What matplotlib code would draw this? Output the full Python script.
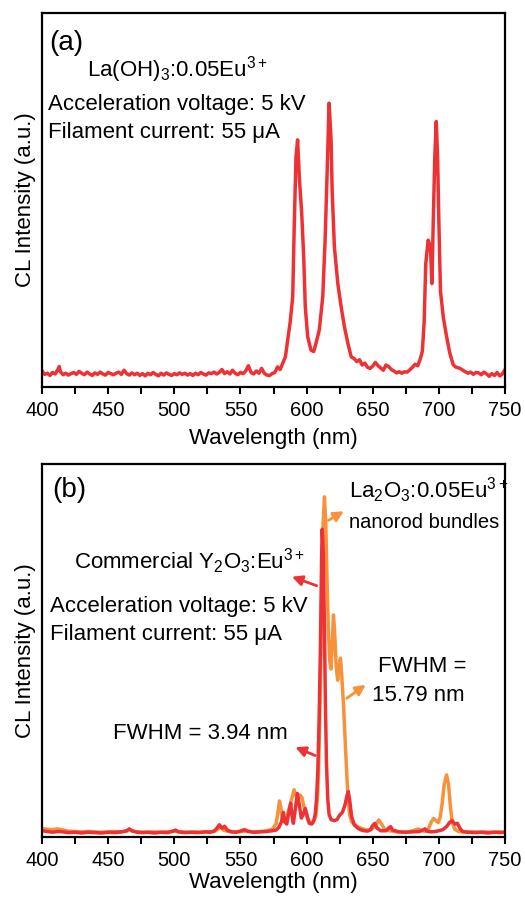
import matplotlib
matplotlib.use("Agg")
import matplotlib.pyplot as plt
from matplotlib.ticker import MultipleLocator

plt.rcParams['font.family'] = ['Liberation Sans', 'DejaVu Sans']
plt.rcParams['mathtext.fontset'] = 'custom'
plt.rcParams['mathtext.rm'] = 'Liberation Sans'
plt.rcParams['mathtext.it'] = 'Liberation Sans'

# ---- (a) La(OH)3:0.05Eu3+ CL spectrum ----
wl_a = [400, 402, 404, 406, 408, 410, 412, 413, 414, 416, 418, 420, 422, 424, 426, 428,
        430, 432, 434, 436, 438, 440, 442, 444, 446, 448, 450, 452, 454, 456, 458, 460,
        462, 464, 466, 468, 470, 472, 474, 476, 478, 480, 482, 484, 486, 488, 490, 492,
        494, 496, 498, 500, 502, 504, 506, 508, 510, 512, 514, 516, 518, 520, 522, 524,
        526, 528, 530, 532, 534, 536, 538, 540, 542, 544, 546, 548, 550, 552, 554, 556,
        558, 560, 562, 564, 566, 568, 570, 572, 574, 576, 578, 580, 582, 584, 585.7,
        587.5, 589.5, 590.7, 592, 593.2, 594.5, 596.3, 597.8, 599, 600.8, 603.3, 605.4,
        607.1, 609.6, 612.2, 614, 615.5, 617, 618.5, 619.3, 621, 623.6, 626.1, 628.6,
        631.2, 633.7, 636, 638, 640, 642, 644, 646, 648, 650, 652, 654, 656, 658, 660,
        662, 664, 666, 668, 670, 672, 674, 676, 678, 680, 682, 684, 686, 687.5, 688.8,
        690.1, 691.9, 693.6, 694.7, 695.7, 696.9, 698, 699, 700, 701.2, 703.3, 705.8,
        708.3, 710.9, 713, 716, 719, 722, 724, 726, 728, 730, 732, 734, 736, 738, 740,
        742, 744, 746, 748, 750]
cl_a = [4.2, 3.3, 3.6, 3.0, 3.8, 3.4, 4.6, 5.4, 4.0, 3.2, 3.6, 3.1, 3.5, 3.8, 3.3, 4.1,
        3.6, 3.2, 3.9, 3.4, 3.0, 3.7, 3.3, 3.9, 3.4, 3.1, 3.8, 3.5, 3.2, 3.6, 3.9, 3.3,
        4.4, 3.5, 3.1, 3.7, 3.2, 3.6, 3.0, 3.5, 2.9, 3.6, 3.2, 3.8, 3.3, 2.9, 3.6, 3.1,
        3.7, 3.3, 3.0, 3.5, 3.2, 3.7, 3.3, 3.6, 3.1, 3.5, 3.0, 3.6, 3.2, 3.8, 3.4, 3.1,
        3.7, 3.5, 3.9, 3.4, 3.8, 4.6, 3.5, 4.0, 3.4, 4.4, 3.6, 3.2, 3.8, 3.5, 4.2, 5.6,
        3.8, 3.4, 4.2, 3.6, 4.9, 3.6, 3.1, 3.0, 3.5, 3.8, 5.3, 4.6, 6.3, 8.0, 12.5,
        17.0, 24.0, 43.7, 61.5, 66.0, 56.0, 46.4, 34.8, 21.4, 13.4, 9.8, 9.4,
        11.6, 15.2, 24.0, 39.2, 57.0, 75.8, 66.0, 52.6, 37.4, 27.6, 21.4, 16.0,
        11.6, 8.0, 7.5, 6.7, 7.2, 5.8, 6.3, 5.2, 4.9, 5.5, 6.5, 5.6, 5.0, 4.4, 5.8,
        5.4, 4.6, 4.2, 3.7, 4.0, 3.6, 4.0, 3.9, 4.5, 5.2, 6.0, 5.6, 7.5, 9.5, 16.9,
        33.0, 39.2, 37.4, 27.6, 43.7, 61.5, 70.9, 61.5, 43.7, 25.5, 18.7, 13.4,
        8.9, 5.8, 5.2, 4.9, 4.2, 3.6, 3.9, 3.3, 3.8, 3.7, 3.2, 3.9, 3.4, 2.8, 3.5,
        3.0, 3.8, 2.9, 3.4, 4.6]

# ---- (b) commercial Y2O3:Eu3+ (red) ----
wl_y = [400, 404, 408, 412, 416, 420, 425, 430, 435, 440, 445, 450, 455, 460, 464, 466,
        468, 472, 476, 480, 485, 490, 495, 499, 501, 503, 508, 513, 518, 523, 527, 530,
        532, 534, 536, 538, 540, 543, 547, 550, 553, 556, 560, 565, 570, 574, 577, 579,
        581, 582.5, 583.5, 585, 586.5, 588, 589, 590, 591.5, 593, 594.5, 596, 597.5,
        599, 600.5, 602, 604, 605.5, 606.5, 607.5, 608.5, 609.5, 610.5, 611.3, 611.8,
        612.6, 613.4, 614.2, 615, 616, 617, 618.5, 621, 623, 625, 627, 629, 630.5,
        631.5, 632.5, 634, 636, 639, 642, 646, 648, 650, 651.5, 653, 656, 660, 662,
        663.5, 665, 670, 675, 680, 685, 688, 689.5, 691, 694, 697, 700, 703, 706, 708,
        710, 712, 714, 716, 718, 722, 727, 732, 737, 742, 746, 750]
cl_y = [1.6, 1.4, 1.2, 1.4, 1.3, 1.1, 1.2, 1.0, 1.2, 1.1, 1.0, 1.2, 1.1, 1.3, 1.6, 2.1,
        1.6, 1.2, 1.1, 1.2, 1.0, 1.2, 1.1, 1.5, 1.8, 1.3, 1.1, 1.2, 1.1, 1.3, 1.2, 1.5,
        2.2, 3.2, 2.3, 2.8, 1.8, 1.3, 1.2, 1.5, 1.9, 1.4, 1.2, 1.3, 1.4, 1.6, 1.8, 2.5,
        4.0, 6.5, 4.0, 3.4, 6.5, 9.0, 5.5, 3.6, 7.5, 11.6, 8.5, 5.0, 6.0,
        7.6, 5.5, 3.6, 3.4, 4.5, 6.0, 10.0, 18.0, 32.0, 52.0, 74.0, 82.5,
        76.0, 58.0, 36.0, 20.0, 10.0, 6.0, 4.6, 4.3, 4.6, 5.8, 6.5, 8.5, 11.0,
        12.1, 10.0, 5.5, 3.2, 2.2, 1.7, 1.5, 1.8, 3.0, 3.6, 2.4, 1.6, 1.6, 2.3,
        2.7, 1.8, 1.3, 1.2, 1.3, 1.4, 1.8, 2.1, 1.5, 1.3, 1.4, 1.6, 1.9, 2.8, 3.8,
        4.3, 3.4, 3.6, 2.2, 1.4, 1.2, 1.1, 1.2, 1.0, 1.2, 1.1, 1.2]

# ---- (b) La2O3:0.05Eu3+ nanorod bundles (orange) ----
wl_la = [400, 404, 408, 412, 416, 420, 425, 430, 435, 440, 445, 450, 455, 460, 464, 466,
         468, 472, 478, 485, 490, 495, 500, 505, 510, 515, 520, 525, 530, 533, 535, 537,
         540, 545, 550, 555, 560, 565, 570, 574, 577, 578.5, 579.5, 580.5, 581.5, 583,
         584.5, 586, 587.5, 589, 590.5, 592, 593.5, 595, 596.5, 598, 599.5, 601, 603,
         605, 607, 608.5, 609.5, 610.5, 611.5, 612.5, 613.5, 614.5, 615.5, 616.5, 617.5,
         618.5, 619.5, 620.3, 621.2, 622.3, 623.5, 624.6, 625.6, 626.6, 627.8, 629,
         630.2, 631.3, 632.5, 634, 637, 641, 645, 649, 652, 654.5, 656.5, 659, 663, 668,
         673, 678, 682, 684.5, 687, 690, 692, 694, 696, 698, 699.5, 701, 702.5, 704,
         705.8, 707.3, 708.7, 710, 712, 715, 720, 725, 730, 735, 740, 745, 750]
cl_la = [2.2, 2.0, 1.9, 2.1, 1.8, 1.5, 1.4, 1.3, 1.4, 1.3, 1.2, 1.3, 1.4, 1.3, 1.5, 2.0,
         1.5, 1.3, 1.2, 1.3, 1.2, 1.3, 1.5, 1.3, 1.2, 1.3, 1.2, 1.3, 1.4, 2.0, 2.6, 1.8,
         1.5, 1.3, 1.4, 1.5, 1.3, 1.4, 1.6, 2.0, 3.5, 7.0, 9.6, 8.0, 5.0, 4.0,
         4.5, 6.5, 8.5, 10.5, 12.6, 11.0, 10.0, 11.2, 10.5, 8.0, 6.0, 4.5, 3.6,
         3.8, 5.5, 12.0, 24.0, 42.0, 66.0, 84.0, 91.2, 84.0, 68.0, 55.0, 47.0,
         45.0, 53.0, 59.5, 55.0, 46.0, 42.0, 46.0, 47.9, 43.0, 36.0, 27.0,
         18.0, 10.5, 6.0, 4.0, 3.0, 2.3, 1.8, 1.9, 3.0, 4.5, 3.5, 2.0, 1.6, 1.3,
         1.2, 1.4, 1.8, 2.1, 1.6, 1.4, 2.0, 3.8, 4.9, 4.2, 3.8, 5.2, 9.0, 14.0,
         16.6, 14.0, 8.0, 4.0, 2.0, 1.4, 1.2, 1.3, 1.2, 1.3, 1.2, 1.3, 1.2]

RED = '#EE3134'
ORANGE = '#F7923A'
FS = 16

fig = plt.figure(figsize=(5.25, 8.97), dpi=100)
ax1 = fig.add_axes([0.08, 0.5689, 0.882, 0.4169])
ax2 = fig.add_axes([0.08, 0.0672, 0.882, 0.4155])

for ax in (ax1, ax2):
    ax.set_xlim(400, 750)
    ax.set_ylim(0, 100)
    ax.xaxis.set_major_locator(MultipleLocator(50))
    ax.xaxis.set_minor_locator(MultipleLocator(25))
    ax.tick_params(axis='x', which='both', direction='out', length=5, width=1.5,
                   labelsize=14.5, pad=5, top=False)
    ax.set_yticks([])
    for s in ax.spines.values():
        s.set_linewidth(1.6)
    ax.set_ylabel('CL Intensity (a.u.)', fontsize=FS, labelpad=4)
ax1.set_xlabel('Wavelength (nm)', fontsize=FS, labelpad=6)
ax2.set_xlabel('Wavelength (nm)', fontsize=FS, labelpad=2)

# panel (a)
ax1.plot(wl_a, cl_a, color=RED, lw=2.5)
ax1.text(405.5, 90.0, '(a)', fontsize=20)
ax1.text(434, 82.9, r'La(OH)$_3$:0.05Eu$^{3+}$', fontsize=FS)
ax1.text(404.8, 74.1, 'Acceleration voltage: 5 kV', fontsize=FS)
ax1.text(404.8, 66.5, 'Filament current: 55 \u03bcA', fontsize=FS)

# panel (b)
ax2.plot(wl_la, cl_la, color=ORANGE, lw=2.5)
ax2.plot(wl_y, cl_y, color=RED, lw=2.5)
ax2.text(407.5, 91.2, '(b)', fontsize=20)
ax2.text(632.4, 90.8, r'La$_2$O$_3$:0.05Eu$^{3+}$', fontsize=FS)
ax2.text(632.4, 82.7, 'nanorod bundles', fontsize=14.5)
ax2.text(424.3, 71.8, r'Commercial Y$_2$O$_3$:Eu$^{3+}$', fontsize=FS)
ax2.text(406, 60.2, 'Acceleration voltage: 5 kV', fontsize=FS)
ax2.text(406, 52.8, 'Filament current: 55 \u03bcA', fontsize=FS)
ax2.text(654, 44.1, 'FWHM =', fontsize=FS)
ax2.text(649.6, 36.5, '15.79 nm', fontsize=FS)
ax2.text(453.6, 26.2, 'FWHM = 3.94 nm', fontsize=FS)

arrow_kw = dict(arrowstyle='-|>,head_length=0.6,head_width=0.3', lw=2)
ax2.annotate('', xy=(629.9, 87.7), xytext=(614.7, 84.5),
             arrowprops=dict(color=ORANGE, **arrow_kw))
ax2.annotate('', xy=(586.9, 70.0), xytext=(609.6, 67.1),
             arrowprops=dict(color=RED, **arrow_kw))
ax2.annotate('', xy=(646.4, 41.2), xytext=(628.6, 36.7),
             arrowprops=dict(color=ORANGE, **arrow_kw))
ax2.annotate('', xy=(589.5, 24.3), xytext=(608.4, 21.5),
             arrowprops=dict(color=RED, **arrow_kw))

fig.savefig('out.png', dpi=100)
